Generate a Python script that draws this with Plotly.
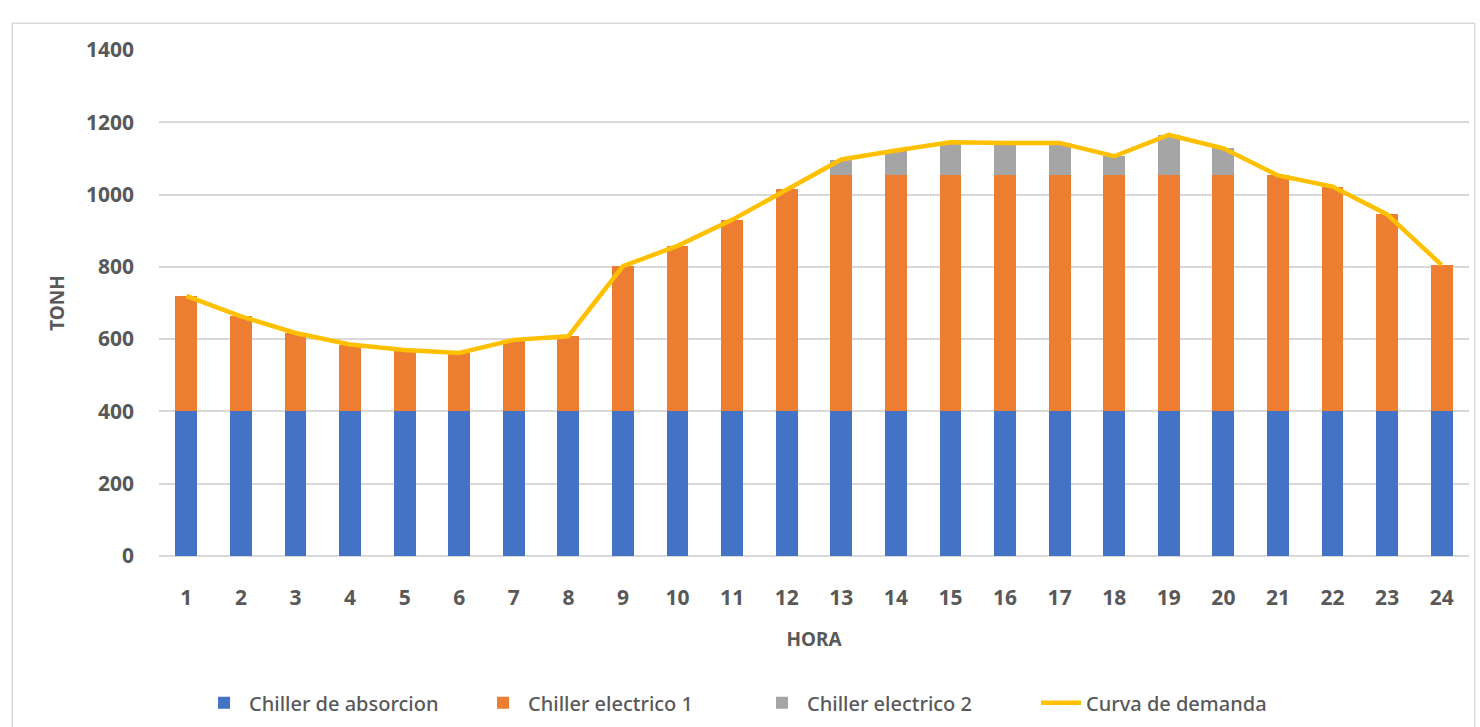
import plotly.graph_objects as go

# Hourly cooling load (TONH) by chiller, with the demand curve
horas = [str(h) for h in range(1, 25)]
chiller_absorcion = [400] * 24
chiller_electrico_1 = [320, 263, 217, 185, 170, 162, 198, 208, 402, 458, 530, 615,
                       653, 653, 653, 653, 653, 653, 653, 653, 653, 622, 545, 405]
chiller_electrico_2 = [0, 0, 0, 0, 0, 0, 0, 0, 0, 0, 0, 0,
                       44, 69, 92, 90, 90, 53, 112, 75, 0, 0, 0, 0]
curva_demanda = [720, 663, 617, 585, 570, 562, 598, 608, 802, 858, 930, 1015,
                 1097, 1122, 1145, 1143, 1143, 1106, 1165, 1128, 1053, 1022, 945, 805]

FONT = "Noto Sans"
GRIS = "#595959"

fig = go.Figure()
fig.add_trace(go.Bar(x=horas, y=chiller_absorcion, name="Chiller de absorcion",
                     marker=dict(color="#4472C4", line=dict(width=0))))
fig.add_trace(go.Bar(x=horas, y=chiller_electrico_1, name="Chiller electrico 1",
                     marker=dict(color="#ED7D31", line=dict(width=0))))
fig.add_trace(go.Bar(x=horas, y=chiller_electrico_2, name="Chiller electrico 2",
                     marker=dict(color="#A5A5A5", line=dict(width=0))))
fig.add_trace(go.Scatter(x=horas, y=curva_demanda, name="Curva de demanda",
                         mode="lines", line=dict(color="#FFC000", width=4.5)))

fig.update_layout(
    width=1480, height=727,
    margin=dict(l=159, r=11, t=50, b=171, autoexpand=False),
    barmode="stack", bargap=0.6,
    plot_bgcolor="white", paper_bgcolor="white",
    font=dict(family=FONT, color=GRIS),
    legend=dict(orientation="h", x=0.4565, xanchor="center", y=-0.29, yanchor="middle",
                font=dict(size=20, color=GRIS, weight=500), itemwidth=40,
                entrywidth=224, traceorder="normal", bgcolor="rgba(0,0,0,0)"),
    shapes=[dict(type="rect", xref="paper", yref="paper",
                 x0=-0.112, x1=1.0043, y0=-0.45, y1=1.053,
                 line=dict(color="#D9D9D9", width=1.5), layer="below")],
)
fig.update_xaxes(
    title=dict(text="HORA", font=dict(size=19, color=GRIS, weight="bold"), standoff=22),
    tickfont=dict(size=21, color=GRIS, weight="bold"), ticklabelstandoff=27,
    showgrid=False, showline=False, zeroline=False,
)
fig.update_yaxes(
    title=dict(text="TONH", font=dict(size=19, color=GRIS, weight="bold"), standoff=16),
    range=[0, 1400], tickvals=list(range(0, 1401, 200)),
    tickfont=dict(size=21, color=GRIS, weight="bold"), ticklabelstandoff=24,
    showgrid=True, gridcolor="#D9D9D9", gridwidth=1.5,
    zeroline=True, zerolinecolor="#D9D9D9", zerolinewidth=1.5, showline=False,
)

fig.write_html("out.html")
